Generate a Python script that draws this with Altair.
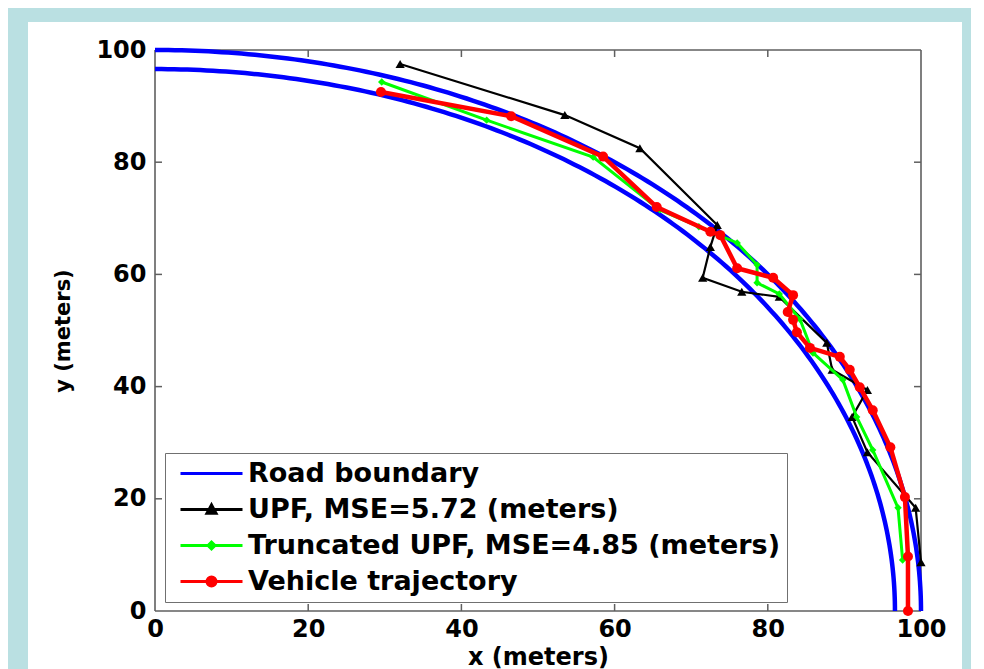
import altair as alt
import numpy as np
import pandas as pd

# ---------------- data ----------------
road_radii = [100.0, 96.6]

upf_x = [32.0, 53.5, 63.3, 73.4, 72.5, 71.5, 76.6, 81.5, 87.7, 88.4, 93.0, 91.0, 93.0, 99.3, 100.0]
upf_y = [97.5, 88.4, 82.5, 68.8, 64.9, 59.4, 56.9, 56.0, 47.8, 43.0, 39.4, 34.6, 28.3, 18.4, 8.7]

tupf_x = [29.6, 43.3, 57.2, 65.9, 71.0, 76.0, 78.6, 78.6, 81.5, 84.2, 85.9, 89.8, 91.6, 93.7, 97.0, 97.6]
tupf_y = [94.3, 87.5, 80.9, 71.5, 68.5, 65.6, 61.7, 58.5, 56.5, 52.0, 46.0, 41.2, 34.6, 28.7, 18.4, 9.1]

veh_x = [29.5, 46.5, 58.5, 65.5, 72.5, 73.8, 76.0, 80.7, 83.3, 82.6, 83.3, 83.8, 85.5, 89.4, 90.7, 92.0, 93.7, 96.0, 97.9, 98.3, 98.3]
veh_y = [92.5, 88.2, 81.0, 72.0, 67.6, 67.0, 61.1, 59.4, 56.3, 53.3, 51.9, 49.7, 46.9, 45.3, 43.0, 39.9, 35.8, 29.2, 20.3, 9.7, 0.0]

series_names = ["Road boundary", "UPF, MSE=5.72 (meters)",
                "Truncated UPF, MSE=4.85 (meters)", "Vehicle trajectory"]
series_colors = ["#0000ff", "#000000", "#00ff00", "#ff0000"]
tick_values = [0, 20, 40, 60, 80, 100]
inner_ticks = [20, 40, 60, 80]

# ---------------- frames ----------------
theta = np.linspace(0, np.pi / 2, 181)
road_rows = []
for k, r in enumerate(road_radii):
    for i, t in enumerate(theta):
        road_rows.append({"x": r * np.cos(t), "y": r * np.sin(t), "ring": k, "i": i})
road_df = pd.DataFrame(road_rows)

def traj_df(xs, ys):
    return pd.DataFrame({"x": xs, "y": ys, "i": list(range(len(xs)))})

upf_df = traj_df(upf_x, upf_y)
tupf_df = traj_df(tupf_x, tupf_y)
veh_df = traj_df(veh_x, veh_y)

frame_df = pd.DataFrame({
    "x": [0, 0, 0, 100], "x2": [100, 100, 0, 100],
    "y": [0, 100, 0, 0], "y2": [0, 100, 100, 100],
})
ticks_df = pd.DataFrame({"x": inner_ticks, "y": inner_ticks})
legend_df = pd.DataFrame({"series": series_names, "x": [-50] * 4, "y": [-50] * 4})
panel_df = pd.DataFrame({"a": [1]})

FONT = "DejaVu Sans"
xs = alt.Scale(domain=[0, 100], nice=False, zero=False)
ys = alt.Scale(domain=[0, 100], nice=False, zero=False)
xaxis = alt.Axis(values=tick_values, grid=False, domain=False, ticks=False, tickSize=0,
                 labelFont=FONT, labelFontWeight="bold", labelFontSize=24, labelColor="black",
                 labelPadding=6, labelFlush=False, labelOverlap=False,
                 titleFont=FONT, titleFontWeight="bold", titleFontSize=24, titleColor="black",
                 titlePadding=4, zindex=1)
yaxis = alt.Axis(values=tick_values, grid=False, domain=False, ticks=False, tickSize=0,
                 labelFont=FONT, labelFontWeight="bold", labelFontSize=24, labelColor="black",
                 labelPadding=9, labelOverlap=False,
                 titleFont=FONT, titleFontWeight="bold", titleFontSize=21, titleColor="black",
                 titlePadding=22, zindex=1)

def X(field="x"):
    return alt.X(field, type="quantitative", scale=xs, axis=xaxis, title="x (meters)")

def Y(field="y"):
    return alt.Y(field, type="quantitative", scale=ys, axis=yaxis, title="y (meters)")

panel = alt.Chart(panel_df).mark_rect(color="white").encode(
    x=alt.value(-127), x2=alt.value(807), y=alt.value(-28), y2=alt.value(700))

frame = alt.Chart(frame_df).mark_rule(color="#5f5f5f", strokeWidth=1.6).encode(
    x=X(), x2="x2", y=Y(), y2="y2")

tick_b = alt.Chart(ticks_df).mark_rule(color="#5f5f5f", strokeWidth=1.5).encode(
    x=X(), y=alt.value(561), y2=alt.value(554))
tick_t = alt.Chart(ticks_df).mark_rule(color="#5f5f5f", strokeWidth=1.5).encode(
    x=X(), y=alt.value(0), y2=alt.value(7))
tick_l = alt.Chart(ticks_df).mark_rule(color="#5f5f5f", strokeWidth=1.5).encode(
    y=Y(), x=alt.value(0), x2=alt.value(7))
tick_r = alt.Chart(ticks_df).mark_rule(color="#5f5f5f", strokeWidth=1.5).encode(
    y=Y(), x=alt.value(759), x2=alt.value(766))

road = alt.Chart(road_df).mark_line(color=series_colors[0], strokeWidth=4.5).encode(
    x=X(), y=Y(), detail="ring:N", order="i:Q")

def traj(df, color, width, shape, size):
    line = alt.Chart(df).mark_line(color=color, strokeWidth=width).encode(
        x=X(), y=Y(), order="i:Q")
    pts = alt.Chart(df).mark_point(shape=shape, filled=True, size=size, color=color,
                                   opacity=1).encode(x=X(), y=Y())
    return line + pts

upf = traj(upf_df, series_colors[1], 2.2, "triangle-up", 85)
tupf = traj(tupf_df, series_colors[2], 3, "diamond", 55)
veh = traj(veh_df, series_colors[3], 4.5, "circle", 100)

line_path = "M-1,0H11.4"
legend_paths = [
    line_path,
    line_path + "M4.3,0.75L5.2,-0.9L6.1,0.75Z",
    line_path + "M4.5,0L5.2,-0.7L5.9,0L5.2,0.7Z",
    line_path + "M4.3,0A0.9,0.9,0,1,0,6.1,0A0.9,0.9,0,1,0,4.3,0Z",
]

leg = alt.Legend(title=None, orient="none", legendX=10, legendY=403,
                 labelFont=FONT, labelFontWeight="bold", labelFontSize=27, labelColor="black",
                 labelLimit=1000, labelOffset=49, symbolSize=100, symbolStrokeWidth=3,
                 rowPadding=8, padding=7, strokeColor="#707070", fillColor="white", zindex=1)

legend_layer = alt.Chart(legend_df).mark_point(filled=True, size=100, strokeWidth=3,
                                                 clip=True, opacity=1).encode(
    x=X(), y=Y(),
    fill=alt.Fill("series:N", scale=alt.Scale(domain=series_names, range=series_colors), legend=leg),
    stroke=alt.Stroke("series:N", scale=alt.Scale(domain=series_names, range=series_colors), legend=leg),
    shape=alt.Shape("series:N", scale=alt.Scale(domain=series_names, range=legend_paths), legend=leg),
)

chart = alt.layer(panel, frame, tick_b, tick_t, tick_l, tick_r, road, upf, tupf, veh,
                  legend_layer).properties(
    width=766, height=561,
    autosize=alt.AutoSizeParams(type="none"),
    padding={"left": 147, "top": 42, "right": 50, "bottom": 70},
).configure(background="#bae0e2").configure_view(stroke=None)

chart.save("out.html", embed_options={"renderer": "svg", "actions": False})
